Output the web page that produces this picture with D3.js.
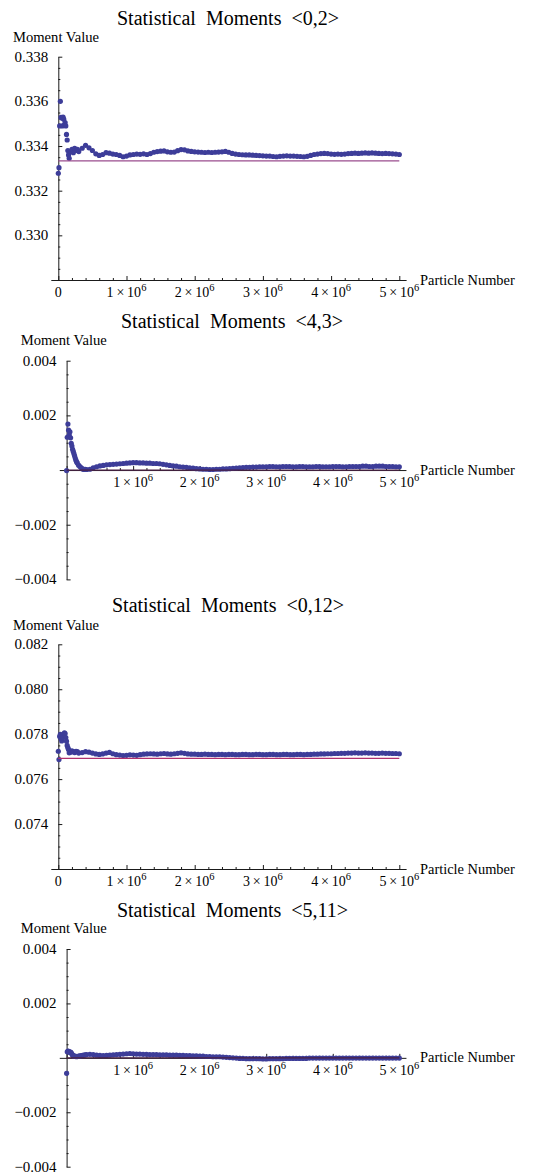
<!DOCTYPE html>
<html>
<head>
<meta charset="utf-8">
<script src="https://cdn.jsdelivr.net/npm/d3@7"></script>
<style>
  html, body { margin: 0; padding: 0; background: #fff; }
  svg { display: block; font-family: "Liberation Serif", "Times New Roman", serif; }
</style>
</head>
<body>
<svg id="chart" width="533" height="1174"></svg>
<script>
// Particle counts (in millions) at which the running moments were sampled
const particleMillions = [
  0, 0.01, 0.02, 0.03, 0.04, 0.05, 0.06, 0.07, 0.08, 0.09, 0.10, 0.11, 0.12, 0.13, 0.14, 0.15, 0.16,
  0.18, 0.20, 0.22, 0.24, 0.26, 0.28, 0.30,
  0.35, 0.40, 0.45, 0.50, 0.55, 0.60, 0.65, 0.70, 0.75, 0.80,
  0.85, 0.90, 0.95, 1.00, 1.05, 1.10, 1.15, 1.20, 1.25, 1.30,
  1.35, 1.40, 1.45, 1.50, 1.55, 1.60, 1.65, 1.70, 1.75, 1.80,
  1.85, 1.90, 1.95, 2.00, 2.05, 2.10, 2.15, 2.20, 2.25, 2.30,
  2.35, 2.40, 2.45, 2.50, 2.55, 2.60, 2.65, 2.70, 2.75, 2.80,
  2.85, 2.90, 2.95, 3.00, 3.05, 3.10, 3.15, 3.20, 3.25, 3.30,
  3.35, 3.40, 3.45, 3.50, 3.55, 3.60, 3.65, 3.70, 3.75, 3.80,
  3.85, 3.90, 3.95, 4.00, 4.05, 4.10, 4.15, 4.20, 4.25, 4.30,
  4.35, 4.40, 4.45, 4.50, 4.55, 4.60, 4.65, 4.70, 4.75, 4.80,
  4.85, 4.90, 4.95, 5.00
];

// Running estimate of moment <0,2>
const moment02 = [
  0.33278, 0.33303, 0.33490, 0.33600, 0.33528, 0.33525, 0.33490, 0.33530, 0.33520, 0.33495, 0.33505, 0.33490, 0.33452, 0.33427, 0.33380, 0.33360, 0.33345,
  0.33375, 0.33385, 0.33370, 0.33390, 0.33380, 0.33385, 0.33375,
  0.33390, 0.33403, 0.33392, 0.33380, 0.33365, 0.33358, 0.33362, 0.33370, 0.33368, 0.33364,
  0.33362, 0.33358, 0.33352, 0.33355, 0.33360, 0.33362, 0.33364, 0.33363, 0.33365, 0.33362,
  0.33366, 0.33372, 0.33375, 0.33377, 0.33378, 0.33374, 0.33372, 0.33373, 0.33379, 0.33384,
  0.33383, 0.33378, 0.33376, 0.33374, 0.33373, 0.33372, 0.33371, 0.33372, 0.33371, 0.33372,
  0.33373, 0.33374, 0.33376, 0.33372, 0.33367, 0.33364, 0.33362, 0.33361, 0.33360, 0.33360,
  0.33359, 0.33358, 0.33357, 0.33356, 0.33355, 0.33355, 0.33353, 0.33352, 0.33354, 0.33355,
  0.33356, 0.33355, 0.33355, 0.33354, 0.33353, 0.33352, 0.33354, 0.33358, 0.33362, 0.33364,
  0.33366, 0.33367, 0.33366, 0.33364, 0.33363, 0.33364, 0.33363, 0.33364, 0.33366, 0.33367,
  0.33368, 0.33367, 0.33368, 0.33369, 0.33368, 0.33369, 0.33368, 0.33367, 0.33366, 0.33367,
  0.33366, 0.33365, 0.33364, 0.33362
];

// Running estimate of moment <4,3>
const moment43 = [
  -0.00002, 0.00120, 0.00168, 0.00146, 0.00128, 0.00140, 0.00118, 0.00098, 0.00088, 0.00076, 0.00068, 0.00060, 0.00052, 0.00044, 0.00036, 0.00030, 0.00026,
  0.00018, 0.00013, 0.00008, 0.00004, 0.00002, 0.00003, 0.00002,
  0.00003, 0.00008, 0.00012, 0.00015, 0.00017, 0.00019, 0.00020, 0.00021, 0.00022, 0.00023,
  0.00024, 0.00025, 0.00026, 0.00027, 0.00027, 0.00026, 0.00026, 0.00025, 0.00025, 0.00024,
  0.00024, 0.00023, 0.00021, 0.00019, 0.00017, 0.00015, 0.00014, 0.00012, 0.00011, 0.00010,
  0.00008, 0.00007, 0.00005, 0.00004, 0.00003, 0.00003, 0.00002, 0.00002, 0.00003, 0.00003,
  0.00004, 0.00004, 0.00005, 0.00006, 0.00007, 0.00008, 0.00009, 0.00010, 0.00010, 0.00011,
  0.00011, 0.00012, 0.00012, 0.00012, 0.00013, 0.00013, 0.00012, 0.00012, 0.00013, 0.00013,
  0.00013, 0.00012, 0.00012, 0.00013, 0.00013, 0.00012, 0.00012, 0.00012, 0.00013, 0.00013,
  0.00012, 0.00012, 0.00012, 0.00013, 0.00013, 0.00013, 0.00012, 0.00012, 0.00013, 0.00013,
  0.00013, 0.00013, 0.00014, 0.00014, 0.00013, 0.00013, 0.00014, 0.00014, 0.00014, 0.00013,
  0.00013, 0.00013, 0.00012, 0.00012
];

// Running estimate of moment <0,12>
const moment012 = [
  0.07724, 0.07687, 0.07790, 0.07799, 0.07780, 0.07770, 0.07785, 0.07795, 0.07800, 0.07806, 0.07803, 0.07785, 0.07769, 0.07750, 0.07740, 0.07732, 0.07717,
  0.07720, 0.07726, 0.07722, 0.07718, 0.07724, 0.07722, 0.07716,
  0.07718, 0.07722, 0.07720, 0.07716, 0.07712, 0.07710, 0.07712, 0.07716, 0.07719, 0.07713,
  0.07709, 0.07707, 0.07705, 0.07706, 0.07708, 0.07707, 0.07706, 0.07709, 0.07711, 0.07712,
  0.07713, 0.07712, 0.07711, 0.07713, 0.07714, 0.07712, 0.07711, 0.07713, 0.07715, 0.07717,
  0.07715, 0.07712, 0.07711, 0.07711, 0.07710, 0.07710, 0.07711, 0.07710, 0.07710, 0.07709,
  0.07710, 0.07710, 0.07709, 0.07710, 0.07710, 0.07709, 0.07709, 0.07710, 0.07710, 0.07709,
  0.07709, 0.07710, 0.07710, 0.07709, 0.07709, 0.07710, 0.07710, 0.07709, 0.07709, 0.07710,
  0.07710, 0.07709, 0.07709, 0.07710, 0.07710, 0.07709, 0.07710, 0.07710, 0.07711, 0.07711,
  0.07712, 0.07712, 0.07713, 0.07713, 0.07714, 0.07714, 0.07715, 0.07715, 0.07716, 0.07716,
  0.07717, 0.07716, 0.07716, 0.07717, 0.07716, 0.07716, 0.07715, 0.07715, 0.07716, 0.07715,
  0.07715, 0.07714, 0.07714, 0.07713
];

// Running estimate of moment <5,11>
const moment511 = [
  -0.00057, 0.00022, 0.00025, 0.00024, 0.00022, 0.00020, 0.00021, 0.00018, 0.00014, 0.00010, 0.00008, 0.00006, 0.00005, 0.00006, 0.00005, 0.00004, 0.00005,
  0.00006, 0.00007, 0.00008, 0.00009, 0.00010, 0.00011, 0.00012,
  0.00013, 0.00012, 0.00010, 0.00009, 0.00008, 0.00009, 0.00010, 0.00011, 0.00012, 0.00013,
  0.00014, 0.00015, 0.00016, 0.00015, 0.00014, 0.00014, 0.00013, 0.00013, 0.00012, 0.00012,
  0.00012, 0.00011, 0.00011, 0.00011, 0.00010, 0.00010, 0.00010, 0.00009, 0.00009, 0.00008,
  0.00008, 0.00007, 0.00007, 0.00006, 0.00006, 0.00005, 0.00005, 0.00004, 0.00004, 0.00004,
  0.00003, 0.00002, 0.00001, 0.00000, -0.00001, -0.00002, -0.00002, -0.00003, -0.00003, -0.00003,
  -0.00003, -0.00003, -0.00004, -0.00004, -0.00003, -0.00003, -0.00003, -0.00003, -0.00003, -0.00002,
  -0.00002, -0.00002, -0.00002, -0.00002, -0.00002, -0.00002, -0.00001, -0.00001, -0.00001, -0.00001,
  -0.00001, -0.00001, -0.00001, -0.00001, -0.00001, -0.00001, -0.00001, -0.00001, -0.00001, -0.00001,
  -0.00001, -0.00001, -0.00001, -0.00001, -0.00001, -0.00001, -0.00001, -0.00001, -0.00001, -0.00001,
  -0.00001, -0.00001, -0.00001, -0.00001
];

// Exact (expected) moment values drawn as reference lines
const exactValues = [1 / 3, 0, 1 / 13, 0];

// Tick values and labels
const xTicks = [0, 1e6, 2e6, 3e6, 4e6, 5e6];
const xTickLabels = ["0", "1×10^6", "2×10^6", "3×10^6", "4×10^6", "5×10^6"];
const xMinorTicks = [0.2e6, 0.4e6, 0.6e6, 0.8e6, 1.2e6, 1.4e6, 1.6e6, 1.8e6, 2.2e6, 2.4e6, 2.6e6, 2.8e6,
                     3.2e6, 3.4e6, 3.6e6, 3.8e6, 4.2e6, 4.4e6, 4.6e6, 4.8e6];

const yTicks02 = [0.330, 0.332, 0.334, 0.336, 0.338];
const yLabels02 = ["0.330", "0.332", "0.334", "0.336", "0.338"];
const yTicks012 = [0.074, 0.076, 0.078, 0.080, 0.082];
const yLabels012 = ["0.074", "0.076", "0.078", "0.080", "0.082"];
const yTicksSym = [-0.004, -0.002, 0.002, 0.004];
const yLabelsSym = ["\u22120.004", "\u22120.002", "0.002", "0.004"];

const titles = ["Statistical  Moments  <0,2>", "Statistical  Moments  <4,3>",
                "Statistical  Moments  <0,12>", "Statistical  Moments  <5,11>"];

// Layout of the four stacked panels
const panels = [
  { values: moment02, exact: exactValues[0], title: titles[0], yDomain: [0.328, 0.338], yTicks: yTicks02, yLabels: yLabels02,
    yMinorStep: 0.0005, xPx: [58.3, 399.3], yPx: [280, 56.7], titleX: 228, titleY: 25, mvX: 13, mvY: 42, showZero: true, refColor: "#9a4c8e" },
  { values: moment43, exact: exactValues[1], title: titles[1], yDomain: [-0.004, 0.004], yTicks: yTicksSym, yLabels: yLabelsSym,
    yMinorStep: 0.0005, xPx: [66.6, 399.3], yPx: [579.4, 360.7], titleX: 232, titleY: 328, mvX: 20.7, mvY: 345, showZero: false, refColor: "#4a1f45" },
  { values: moment012, exact: exactValues[2], title: titles[2], yDomain: [0.072, 0.082], yTicks: yTicks012, yLabels: yLabels012,
    yMinorStep: 0.0005, xPx: [58.3, 399.3], yPx: [869, 644.3], titleX: 228, titleY: 612.3, mvX: 13, mvY: 630, showZero: true, refColor: "#b0306c" },
  { values: moment511, exact: exactValues[3], title: titles[3], yDomain: [-0.004, 0.004], yTicks: yTicksSym, yLabels: yLabelsSym,
    yMinorStep: 0.0005, xPx: [66.6, 399.3], yPx: [1166.7, 949], titleX: 232.5, titleY: 916.7, mvX: 20.7, mvY: 933.3, showZero: false, refColor: "#4a1f45" }
];

const svg = d3.select("#chart");
const pointColor = "#3d3d99";
const axisColor = "#1a1a1a";

panels.forEach(p => {
  const g = svg.append("g");
  const x = d3.scaleLinear().domain([0, 5e6]).range(p.xPx);
  const y = d3.scaleLinear().domain(p.yDomain).range(p.yPx);
  const xAxisScale = x.copy().domain([-0.11e6, 5.1e6]).range([x(-0.11e6), x(5.1e6)]);

  const axisY = (p.yDomain[0] < 0 && p.yDomain[1] > 0) ? y(0) : y(p.yDomain[0]);
  const axisX = x(0);

  // Title and axis names
  g.append("text")
    .attr("x", p.titleX).attr("y", p.titleY)
    .attr("text-anchor", "middle")
    .attr("font-size", 20)
    .style("white-space", "pre")
    .text(p.title);

  g.append("text")
    .attr("x", p.mvX).attr("y", p.mvY)
    .attr("font-size", 14.6)
    .text("Moment Value");

  g.append("text")
    .attr("x", 420).attr("y", axisY + 4.5)
    .attr("font-size", 14.4)
    .text("Particle Number");

  // Y axis (ticks pointing into the plot)
  const yMinor = d3.range(p.yDomain[0], p.yDomain[1] + 1e-9, p.yMinorStep)
    .filter(v => !p.yTicks.some(t => Math.abs(t - v) < 1e-9) && Math.abs(v) > 1e-9);
  const yAxisG = g.append("g").attr("transform", `translate(${axisX},0)`);
  yAxisG.call(d3.axisLeft(y).tickValues(p.yTicks).tickSizeInner(-4).tickSizeOuter(0).tickFormat(() => ""));
  yAxisG.append("g").call(d3.axisLeft(y).tickValues(yMinor).tickSizeInner(-2).tickSizeOuter(0).tickFormat(() => ""))
    .select(".domain").remove();
  yAxisG.selectAll("path, line").attr("stroke", axisColor).attr("stroke-width", 1);

  g.selectAll(".ylab").data(p.yTicks).enter().append("text")
    .attr("x", axisX - 10)
    .attr("y", d => y(d) + 5)
    .attr("text-anchor", "end")
    .attr("font-size", 15)
    .text((d, i) => p.yLabels[i]);

  // X axis
  const xAxisG = g.append("g").attr("transform", `translate(0,${axisY})`);
  xAxisG.call(d3.axisBottom(xAxisScale).tickValues(xTicks).tickSizeInner(-4).tickSizeOuter(0).tickFormat(() => ""));
  xAxisG.append("g").call(d3.axisBottom(xAxisScale).tickValues(xMinorTicks).tickSizeInner(-2).tickSizeOuter(0).tickFormat(() => ""))
    .select(".domain").remove();
  xAxisG.selectAll("path, line").attr("stroke", axisColor).attr("stroke-width", 1);

  xTicks.forEach((t, i) => {
    if (t === 0 && !p.showZero) return;
    const parts = xTickLabels[i].split("^");
    const txt = g.append("text")
      .attr("x", x(t)).attr("y", axisY + 16.7)
      .attr("text-anchor", "middle")
      .attr("font-size", 14);
    txt.append("tspan").text(parts[0].replace("×", "\u2009×\u2009"));
    if (parts[1]) {
      txt.append("tspan").attr("dy", -5.5).attr("font-size", 10.5).text(parts[1]);
    }
  });

  // Sampled moment values
  g.append("g").selectAll("circle")
    .data(p.values)
    .enter().append("circle")
    .attr("cx", (d, i) => x(particleMillions[i] * 1e6))
    .attr("cy", d => y(d))
    .attr("r", 2.6)
    .attr("fill", pointColor);

  // Exact value reference line
  g.append("line")
    .attr("x1", x(0)).attr("x2", x(5e6))
    .attr("y1", y(p.exact)).attr("y2", y(p.exact))
    .attr("stroke", p.refColor)
    .attr("stroke-width", 1.2);
});
</script>
</body>
</html>
